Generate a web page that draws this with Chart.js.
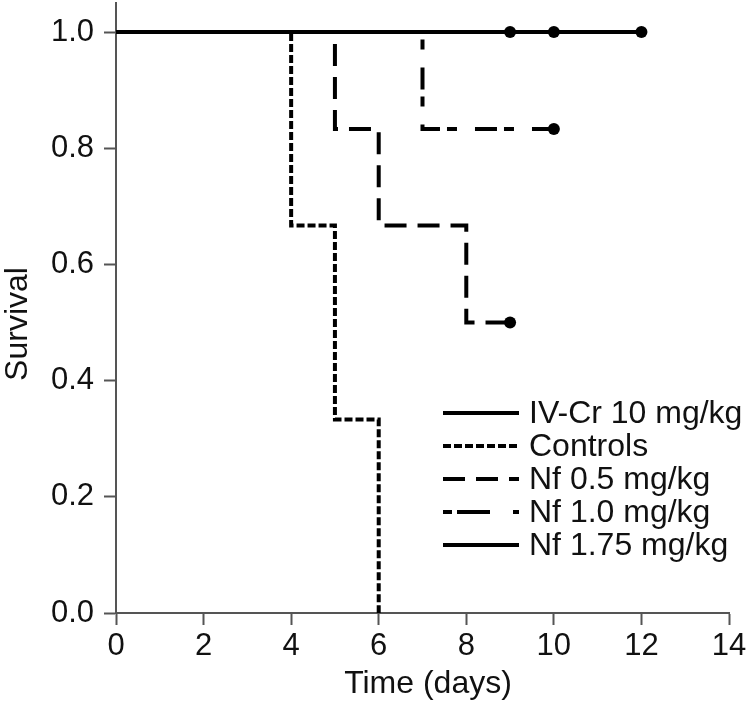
<!DOCTYPE html>
<html>
<head>
<meta charset="utf-8">
<script src="https://cdn.jsdelivr.net/npm/chart.js@4/dist/chart.umd.min.js"></script>
<style>
  html, body { margin: 0; padding: 0; background: #fff; }
  #wrap { width: 750px; height: 704px; }
</style>
</head>
<body>
<div id="wrap"><canvas id="chart" width="750" height="704"></canvas></div>
<script>
// Datos (tiempo en dias, supervivencia)
const ivcrTime = [0, 12];
const ivcrSurv = [1, 1];
const ivcrCensor = [12];

const controlsTime = [0, 4, 5, 6];
const controlsSurv = [1, 0.667, 0.333, 0];
const controlsCensor = [];

const nf05Time = [0, 5, 6, 8, 9];
const nf05Surv = [1, 0.833, 0.667, 0.5, 0.5];
const nf05Censor = [9];

const nf10Time = [0, 7, 10];
const nf10Surv = [1, 0.833, 0.833];
const nf10Censor = [10];

const nf175Time = [0, 9, 10];
const nf175Surv = [1, 1, 1];
const nf175Censor = [9, 10];

const seriesLabels = ['IV-Cr 10 mg/kg', 'Controls', 'Nf 0.5 mg/kg', 'Nf 1.0 mg/kg', 'Nf 1.75 mg/kg'];
const xTicks = [0, 2, 4, 6, 8, 10, 12, 14];
const yTicks = [0, 0.2, 0.4, 0.6, 0.8, 1.0];
const xTitle = 'Time (days)';
const yTitle = 'Survival';

const FONT = '"Liberation Sans", Arial, sans-serif';
const INK = '#000';
const TEXT = '#111';
const AXIS = '#555';

// Une tiempos y valores en puntos {x, y}
function toPoints(times, surv) {
    return times.map((t, i) => ({ x: t, y: surv[i] }));
}

// Radio del punto solo donde hay censura
function censorRadius(times, censor) {
    return times.map((t, i) => (i > 0 && censor.includes(t)) ? 6 : 0);
}

function makeSet(label, times, surv, censor, dash) {
    return {
        label: label,
        data: toPoints(times, surv),
        stepped: 'before',
        borderColor: INK,
        backgroundColor: INK,
        borderWidth: 4,
        borderDash: dash,
        pointRadius: censorRadius(times, censor),
        pointHoverRadius: censorRadius(times, censor),
        pointBorderWidth: 0,
        pointBackgroundColor: INK,
        fill: false
    };
}

const datasets = [
    makeSet(seriesLabels[0], ivcrTime, ivcrSurv, ivcrCensor, []),
    makeSet(seriesLabels[4], nf175Time, nf175Surv, nf175Censor, []),
    makeSet(seriesLabels[1], controlsTime, controlsSurv, controlsCensor, [8, 3]),
    makeSet(seriesLabels[2], nf05Time, nf05Surv, nf05Censor, [22, 11]),
    makeSet(seriesLabels[3], nf10Time, nf10Surv, nf10Censor, [22, 7, 10, 18])
];

// Leyenda y titulos de ejes dibujados a mano
const legendOrder = [0, 2, 3, 4, 1];
const legendDash = [null, null, null, [9, 5, 33, 23, 6, 50], null];
const insideLegend = {
    id: 'insideLegend',
    afterDatasetsDraw(chart) {
        const c = chart.ctx;
        const area = chart.chartArea;
        const x0 = area.right - 286;
        const y0 = area.bottom - 200;
        c.save();
        c.font = '32px ' + FONT;
        c.textBaseline = 'middle';
        c.fillStyle = TEXT;
        legendOrder.forEach((di, row) => {
            const ds = chart.data.datasets[di];
            const y = y0 + row * 33;
            c.beginPath();
            c.setLineDash(legendDash[row] || ds.borderDash);
            c.lineWidth = 4;
            c.strokeStyle = INK;
            c.moveTo(x0, y);
            c.lineTo(x0 + 76, y);
            c.stroke();
            c.setLineDash([]);
            c.fillText(ds.label, x0 + 86, y + 1);
        });

        // Titulos
        c.textAlign = 'center';
        c.textBaseline = 'alphabetic';
        c.fillText(xTitle, 428, 693);
        c.translate(27, 324);
        c.rotate(-Math.PI / 2);
        c.fillText(yTitle, 0, 0);
        c.restore();
    }
};

new Chart(document.getElementById('chart'), {
    type: 'line',
    data: { datasets: datasets },
    options: {
        responsive: false,
        animation: false,
        layout: { autoPadding: false, padding: { top: 3, right: 21, left: 0, bottom: 0 } },
        plugins: {
            legend: { display: false },
            tooltip: { enabled: false }
        },
        scales: {
            x: {
                type: 'linear',
                min: 0,
                max: 14,
                afterBuildTicks: scale => { scale.ticks = xTicks.map(v => ({ value: v })); },
                afterFit: scale => { scale.height = 91; scale.paddingLeft = 0; scale.paddingRight = 0; },
                grid: { drawOnChartArea: false, drawTicks: true, tickLength: 12, tickColor: AXIS, tickWidth: 2 },
                border: { color: AXIS, width: 2 },
                ticks: { color: TEXT, font: { family: FONT, size: 31 }, padding: 3, maxRotation: 0 }
            },
            y: {
                type: 'linear',
                min: 0,
                max: 1.05,
                afterBuildTicks: scale => { scale.ticks = yTicks.map(v => ({ value: v })); },
                afterFit: scale => { scale.width = 116; scale.paddingTop = 0; scale.paddingBottom = 0; },
                grid: { drawOnChartArea: false, drawTicks: true, tickLength: 12, tickColor: AXIS, tickWidth: 2 },
                border: { color: AXIS, width: 2 },
                ticks: { color: TEXT, font: { family: FONT, size: 31 }, padding: 10, callback: v => v.toFixed(1) }
            }
        }
    },
    plugins: [insideLegend]
});
</script>
</body>
</html>
